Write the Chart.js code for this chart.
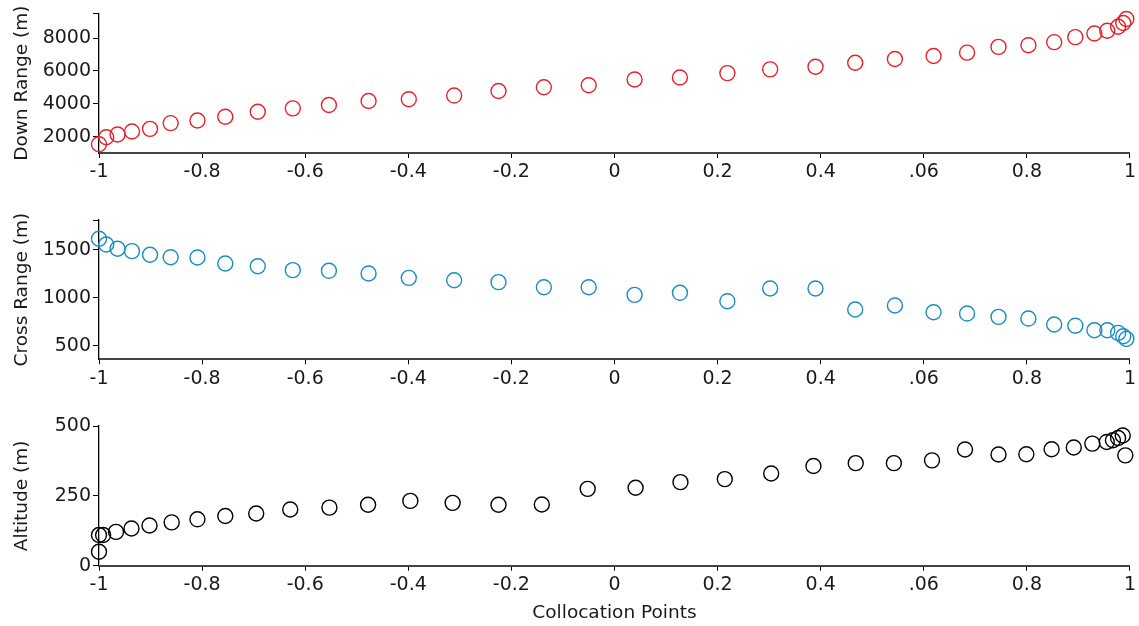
<!DOCTYPE html>
<html>
<head>
<meta charset="utf-8">
<script src="https://cdn.jsdelivr.net/npm/chart.js@4.4.1/dist/chart.umd.min.js"></script>
<style>
  html, body { margin: 0; padding: 0; background: #fff; }
  #wrap { position: relative; width: 1139px; height: 626px; }
  .panel { position: absolute; left: 0; width: 1139px; }
</style>
</head>
<body>
<div id="wrap">
  <div class="panel" style="top:0;height:200px"><canvas id="downChart"></canvas></div>
  <div class="panel" style="top:200px;height:200px"><canvas id="crossChart"></canvas></div>
  <div class="panel" style="top:400px;height:226px"><canvas id="altChart"></canvas></div>
</div>
<script>
// collocation points
const tau = [-1.0, -0.986, -0.964, -0.936, -0.901, -0.861, -0.809, -0.755, -0.692, -0.624,
    -0.554, -0.477, -0.399, -0.311, -0.225, -0.137, -0.050, 0.039, 0.127, 0.219,
    0.302, 0.390, 0.467, 0.544, 0.619, 0.684, 0.745, 0.803, 0.853, 0.894,
    0.931, 0.956, 0.977, 0.987, 0.993];

const downRange = [1530, 1960, 2130, 2310, 2470, 2816, 2982, 3209, 3515, 3718,
    3920, 4166, 4270, 4497, 4779, 5006, 5129, 5478, 5601, 5865,
    6092, 6252, 6497, 6724, 6908, 7110, 7460, 7565, 7748, 8055,
    8276, 8442, 8687, 8914, 9160];

const crossRange = [1615, 1555, 1511, 1486, 1448, 1423, 1420, 1357, 1329, 1288,
    1281, 1253, 1208, 1183, 1163, 1110, 1110, 1031, 1052, 965,
    1097, 1097, 878, 920, 850, 836, 802, 784, 722, 710,
    662, 662, 635, 600, 573];

// altitude has its own set of points
const tauAlt = [-1, -1, -0.992, -0.967, -0.937, -0.902, -0.859, -0.809, -0.755, -0.695,
    -0.629, -0.553, -0.478, -0.396, -0.314, -0.225, -0.141, -0.052, 0.041, 0.128,
    0.214, 0.304, 0.386, 0.468, 0.542, 0.616, 0.680, 0.745, 0.799, 0.848,
    0.891, 0.927, 0.955, 0.967, 0.977, 0.986, 0.991];

const altitude = [50, 110, 110, 121, 133, 144, 155, 166, 178, 187,
    201, 208, 218, 232, 225, 218, 219, 275, 279, 299,
    310, 330, 357, 367, 367, 377, 416, 398, 399, 417,
    423, 437, 443, 449, 457, 466, 395];

const xTicks = [-1, -0.8, -0.6, -0.4, -0.2, 0, 0.2, 0.4, 0.6, 0.8, 1];
const xTickLabels = ['-1', '-0.8', '-0.6', '-0.4', '-0.2', '0', '0.2', '0.4', '.06', '0.8', '1'];

const downTicks = [2000, 4000, 6000, 8000, 9500];
const crossTicks = [500, 1000, 1500, 1810];
const altTicks = [0, 250, 500];

Chart.defaults.font.family = 'DejaVu Sans';
Chart.defaults.color = '#1a1a1a';

function makePanel(id, xs, ys, color, o) {
    const pts = xs.map((x, i) => ({x: x, y: ys[i]}));
    return new Chart(document.getElementById(id), {
        type: 'scatter',
        data: {
            datasets: [{
                data: pts,
                borderColor: color,
                backgroundColor: 'rgba(0,0,0,0)',
                pointRadius: 7.5,
                pointHoverRadius: 7.5,
                pointBorderWidth: 1.4,
                clip: false
            }]
        },
        options: {
            responsive: true,
            maintainAspectRatio: false,
            animation: false,
            layout: { padding: { top: o.padTop, right: 8, left: 0, bottom: 0 } },
            plugins: { legend: { display: false }, tooltip: { enabled: false } },
            scales: {
                x: {
                    type: 'linear',
                    min: -1,
                    max: 1,
                    afterBuildTicks: s => { s.ticks = xTicks.map(v => ({value: v})); },
                    afterFit: s => { s.height = o.xHeight; },
                    ticks: {
                        font: { size: 19 },
                        padding: 3,
                        maxRotation: 0,
                        autoSkip: false,
                        callback: (v, i) => xTickLabels[i]
                    },
                    grid: { drawOnChartArea: false, drawTicks: true, tickLength: 5, color: '#000', lineWidth: 1 },
                    border: { display: true, color: '#444', width: 2 },
                    title: {
                        display: !!o.xTitle,
                        text: o.xTitle || '',
                        font: { size: 18.5 },
                        padding: { top: 0, bottom: 2 }
                    }
                },
                y: {
                    type: 'linear',
                    min: o.yMin,
                    max: o.yMax,
                    afterBuildTicks: s => { s.ticks = o.yTicks.map(v => ({value: v})); },
                    afterFit: s => { s.width = 99; },
                    ticks: {
                        font: { size: 19 },
                        padding: 2,
                        callback: v => o.yLabels.includes(v) ? String(v) : ''
                    },
                    grid: { drawOnChartArea: false, drawTicks: true, tickLength: 6, color: '#000', lineWidth: 1 },
                    border: { display: true, color: '#000', width: 1.3 },
                    title: {
                        display: true,
                        text: o.yTitle,
                        font: { size: 18.5 },
                        padding: { top: 11, bottom: 0 }
                    }
                }
            }
        }
    });
}

makePanel('downChart', tau, downRange, '#e8202a', {
    padTop: 13, xHeight: 47, yMin: 1000, yMax: 9500,
    yTicks: downTicks, yLabels: [2000, 4000, 6000, 8000], yTitle: 'Down Range (m)'
});

makePanel('crossChart', tau, crossRange, '#1a8dc0', {
    padTop: 20, xHeight: 40.7, yMin: 360, yMax: 1810,
    yTicks: crossTicks, yLabels: [500, 1000, 1500], yTitle: 'Cross Range (m)'
});

makePanel('altChart', tauAlt, altitude, '#000000', {
    padTop: 26, xHeight: 60.3, yMin: 0, yMax: 500,
    yTicks: altTicks, yLabels: [0, 250, 500], yTitle: 'Altitude (m)',
    xTitle: 'Collocation Points'
});
</script>
</body>
</html>
